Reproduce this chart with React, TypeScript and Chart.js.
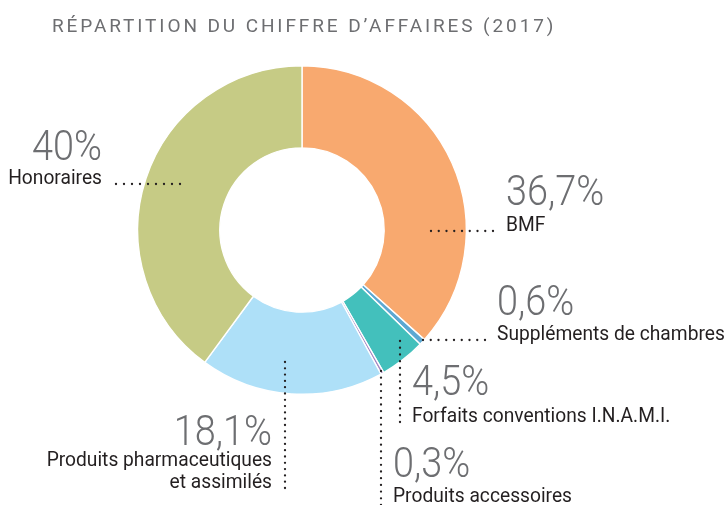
import React, { useEffect, useRef } from 'react';
import { Chart, registerables } from 'chart.js';
Chart.register(...registerables);

// ---- data ----
const chartTitle = 'RÉPARTITION DU CHIFFRE D’AFFAIRES (2017)';
const categories = [
  'BMF',
  'Suppléments de chambres',
  'Forfaits conventions I.N.A.M.I.',
  'Produits accessoires',
  'Produits pharmaceutiques et assimilés',
  'Honoraires',
];
const categoryLines = [
  ['BMF'],
  ['Suppléments de chambres'],
  ['Forfaits conventions I.N.A.M.I.'],
  ['Produits accessoires'],
  ['Produits pharmaceutiques', 'et assimilés'],
  ['Honoraires'],
];
const values = [36.7, 0.6, 4.5, 0.3, 18.1, 40];

// ---- styles ----
const colors = ['#f8a96f', '#5ca8d2', '#43c0bc', '#a487c3', '#aee0f8', '#c6cb85'];
const DARK = '#231f20';
const GREY = '#6d6e71';

// label layout (annotation placement)
type Lead = { dir: 'h' | 'v'; a: number; b: number; at: number; step: number };
type LabelLayout = {
  align: 'left' | 'right';
  x: number;
  pctY: number;
  nameY: number[];
  lead: Lead;
};
const layouts: LabelLayout[] = [
  { align: 'left', x: 506, pctY: 205, nameY: [231], lead: { dir: 'h', a: 431, b: 493, at: 231, step: 7.75 } },
  { align: 'left', x: 497, pctY: 315, nameY: [340], lead: { dir: 'h', a: 423, b: 485, at: 340, step: 7.75 } },
  { align: 'left', x: 412, pctY: 395, nameY: [422], lead: { dir: 'v', a: 341, b: 422, at: 400, step: 6.75 } },
  { align: 'left', x: 393, pctY: 477, nameY: [502], lead: { dir: 'v', a: 371, b: 505, at: 381, step: 6.7 } },
  { align: 'right', x: 272, pctY: 445, nameY: [466, 488], lead: { dir: 'v', a: 362, b: 488, at: 285, step: 6.3 } },
  { align: 'right', x: 102, pctY: 160, nameY: [184], lead: { dir: 'h', a: 116, b: 180, at: 184, step: 8 } },
];

const FONT = 'Roboto, "Liberation Sans", sans-serif';
const PCT_SIZE = 43;
const PCT_SX = 0.88;
const NAME_SIZE = 20;
const NAME_SX = 0.96;

function drawText(ctx: CanvasRenderingContext2D, text: string, x: number, y: number, align: CanvasTextAlign, sx: number) {
  ctx.save();
  ctx.translate(x, y);
  ctx.scale(sx, 1);
  ctx.textAlign = align;
  ctx.textBaseline = 'alphabetic';
  ctx.fillText(text, 0, 0);
  ctx.restore();
}

function drawDots(ctx: CanvasRenderingContext2D, lead: Lead) {
  ctx.fillStyle = DARK;
  for (let p = lead.a; p <= lead.b + 0.01; p += lead.step) {
    ctx.beginPath();
    if (lead.dir === 'h') ctx.arc(p, lead.at, 1.15, 0, Math.PI * 2);
    else ctx.arc(lead.at, p, 1.15, 0, Math.PI * 2);
    ctx.fill();
  }
}

const labelPlugin = {
  id: 'labelPlugin',
  afterDraw(chart: any) {
    const ctx: CanvasRenderingContext2D = chart.ctx;
    ctx.save();
    // title
    ctx.fillStyle = GREY;
    ctx.font = `400 19px ${FONT}`;
    (ctx as any).letterSpacing = '2.9px';
    ctx.textAlign = 'left';
    ctx.textBaseline = 'alphabetic';
    ctx.fillText(chartTitle, 52, 31.5);
    (ctx as any).letterSpacing = '0px';

    values.forEach((v, i) => {
      const L = layouts[i];
      drawDots(ctx, L.lead);
      ctx.fillStyle = GREY;
      ctx.font = `300 ${PCT_SIZE}px ${FONT}`;
      const pct = v.toLocaleString('fr-FR') + '%';
      drawText(ctx, pct, L.x, L.pctY, L.align, PCT_SX);
      ctx.fillStyle = DARK;
      ctx.font = `400 ${NAME_SIZE}px ${FONT}`;
      categoryLines[i].forEach((line, j) => {
        drawText(ctx, line, L.x, L.nameY[j], L.align, NAME_SX);
      });
    });
    ctx.restore();
  },
};

export default function App() {
  const ref = useRef<HTMLCanvasElement | null>(null);
  useEffect(() => {
    if (!ref.current) return;
    const chart = new Chart(ref.current, {
      type: 'doughnut',
      data: {
        labels: categories,
        datasets: [
          {
            data: values,
            backgroundColor: colors,
            borderColor: '#ffffff',
            borderWidth: 1.4,
          },
        ],
      },
      options: {
        responsive: false,
        animation: false,
        cutout: '50%',
        layout: { padding: { left: 137, right: 259, top: 65, bottom: 110 } },
        plugins: {
          legend: { display: false },
          tooltip: { enabled: false },
          title: { display: false },
        },
      },
      plugins: [labelPlugin],
    });
    return () => chart.destroy();
  }, []);
  return (
    <div style={{ position: 'fixed', left: 0, top: 0, width: 726, height: 505, background: '#fff' }}>
      <canvas ref={ref} width={726} height={505} style={{ display: 'block', width: 726, height: 505 }} />
    </div>
  );
}
